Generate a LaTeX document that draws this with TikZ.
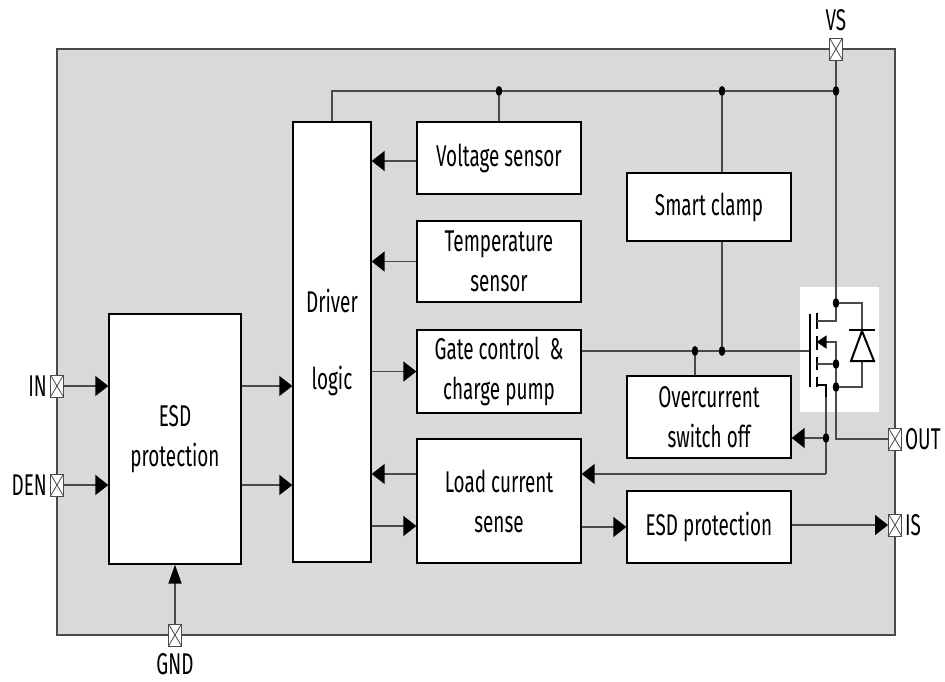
\documentclass[tikz,border=0pt]{standalone}
\usepackage{fontspec}
\setmainfont[FakeStretch=0.63]{Fira Sans}
\usepackage{xcolor}
\usetikzlibrary{arrows.meta, calc, positioning}
\definecolor{chipgray}{HTML}{D9D9D9}
\definecolor{wiregray}{HTML}{4A4A4A}
\tikzset{
    blockbox/.style={draw=black, line width=1.3pt, fill=white, align=center, inner sep=0pt, font=\fontsize{30}{40}\selectfont},
    wire/.style={draw=wiregray, line width=1.4pt},
    sig/.style={wire, -{Triangle[length=13pt,width=20pt,fill=black,color=black]}},
    sigv/.style={wire, -{Triangle[length=19pt,width=13pt,fill=black,color=black]}},
    junction/.style={circle, fill=black, inner sep=0pt, minimum width=10pt, minimum height=10pt, xscale=0.65},
    portbox/.style={draw=wiregray, line width=0.9pt, fill=white, inner sep=0pt, minimum width=13pt, minimum height=22pt,
        path picture={\draw[wiregray, line width=0.8pt] (path picture bounding box.north west) -- (path picture bounding box.south east)
            (path picture bounding box.north east) -- (path picture bounding box.south west);}},
    portlabel/.style={inner sep=0pt, font=\fontsize{30}{34}\selectfont},
    fetline/.style={draw=black, line width=2pt},
}
\begin{document}
\begin{tikzpicture}[x=1pt, y=-1pt]
    \useasboundingbox (0,0) rectangle (945,681);

    % Chip outline
    \draw[draw=wiregray, line width=1.4pt, fill=chipgray] (57,49) rectangle (895,635);
    \fill[white] (800,287) rectangle (879,412);

    % Blocks
    \node[blockbox, minimum width=132pt, minimum height=250pt] (esd) at (175,439) {ESD\\protection};
    \node[blockbox, minimum width=78pt, minimum height=440pt] (driver) at (332,342) {Driver\\[37pt]logic};
    \node[blockbox, minimum width=164pt, minimum height=72pt] (voltage) at (499,158) {Voltage sensor};
    \node[blockbox, minimum width=164pt, minimum height=81pt] (temp) at (499,261.5) {Temperature\\sensor};
    \node[blockbox, minimum width=164pt, minimum height=83pt] (gate) at (499,371.5) {Gate control \,\&\\charge pump};
    \node[blockbox, minimum width=164pt, minimum height=124pt] (load) at (499,501) {Load current\\sense};
    \node[blockbox, minimum width=164pt, minimum height=68pt] (clamp) at (709,207) {Smart clamp};
    \node[blockbox, minimum width=164pt, minimum height=82pt] (overcurrent) at (709,417) {Overcurrent\\switch off};
    \node[blockbox, minimum width=164pt, minimum height=72pt] (esdout) at (709,527) {ESD protection};

    % Pins
    \node[portbox] (vs) at (836,49) {};
    \node[portbox] (in) at (57,386) {};
    \node[portbox] (den) at (57,485) {};
    \node[portbox] (gnd) at (175,635) {};
    \node[portbox] (out) at (895,439) {};
    \node[portbox] (is) at (895,525) {};
    \node[portlabel, above=6pt of vs] (vslabel) {VS};
    \node[portlabel, left=3pt of in] (inlabel) {IN};
    \node[portlabel, left=3pt of den] (denlabel) {DEN};
    \node[portlabel, below=7pt of gnd] (gndlabel) {GND};
    \node[portlabel, right=3pt of out] (outlabel) {OUT};
    \node[portlabel, right=3pt of is] (islabel) {IS};

    % Junctions
    \node[junction] (railv) at (499,91) {};
    \node[junction] (railc) at (722,91) {};
    \node[junction] (railvs) at (836,91) {};
    \node[junction] (gateov) at (695,351) {};
    \node[junction] (gatecl) at (722,351) {};
    \node[junction] (drain) at (836,303) {};
    \node[junction] (source) at (836,364) {};
    \node[junction] (anode) at (836,387) {};
    \node[junction] (sense) at (826,438) {};
    \coordinate (fetgate) at (810,351);
    \coordinate (sensetop) at (826,397);
    \coordinate (senseend) at (826,474);
    \coordinate (outend) at (836,439);
    \coordinate (driverrail) at (332,91);
    \coordinate (diodetop) at (862,303);
    \coordinate (diodebot) at (862,387);

    % Supply rail
    \draw[wire] (driver.north -| driverrail) -- (driverrail) -- (railv) -- (railc) -- (railvs);
    \draw[wire] (vs) -- (railvs) -- (drain);
    \draw[wire] (railv) -- (voltage.north -| railv);
    \draw[wire] (railc) -- (clamp.north -| railc);
    \draw[wire] (clamp.south -| gatecl) -- (gatecl);
    \draw[wire] (gate.east |- fetgate) -- (gateov) -- (gatecl) -- (fetgate);
    \draw[wire] (gateov) -- (overcurrent.north -| gateov);

    % Signals
    \draw[sig] (in) -- (esd.west |- in);
    \draw[sig] (den) -- (esd.west |- den);
    \draw[sigv] (gnd) -- (esd.south -| gnd);
    \draw[sig] (esd.east |- in) -- (driver.west |- in);
    \draw[sig] (esd.east |- den) -- (driver.west |- den);
    \draw[sig] (voltage.west) ++(0,3) -- (driver.east |- 0,161);
    \draw[sig] (temp.west) -- (driver.east |- temp.west);
    \draw[sig] (driver.east |- gate.west) -- (gate.west);
    \draw[sig] (load.west |- senseend) -- (driver.east |- senseend);
    \draw[sig] (driver.east |- 0,526) -- (load.west |- 0,526);
    \draw[sig] (load.east |- esdout) -- (esdout.west);
    \draw[sig] (esdout.east |- is) -- (is.west);
    \draw[sig] (sense) -- (overcurrent.east |- sense);
    \draw[sig] (senseend) -- (load.east |- senseend);
    \draw[wire] (sensetop) -- (sense) -- (senseend);
    \draw[wire] (source) -- (anode) -- (outend) -- (out);

    % MOSFET
    \draw[fetline, line width=2.4pt] (810,314) -- (810,387);
    \draw[fetline] (816.5,313) -- (816.5,329) (816.5,336) -- (816.5,350) (816.5,357) -- (816.5,370) (816.5,377) -- (816.5,387);
    \draw[wire] (816.5,321) -| (drain);
    \draw[wire] (816.5,364) -- (source);
    \draw[wire, -{Triangle[length=10pt,width=13pt,fill=black,color=black]}] (source) |- (816.5,342);
    \draw[fetline] (816.5,385) -| (sensetop);

    % Diode
    \draw[wire] (drain) -- (diodetop) -- (diodebot) -- (anode);
    \draw[draw=black, line width=2pt, fill=white] (862,331) -- (851,361) -- (874,361) -- cycle;
    \draw[fetline, line width=2.4pt] (849,330) -- (875,330);
\end{tikzpicture}
\end{document}
